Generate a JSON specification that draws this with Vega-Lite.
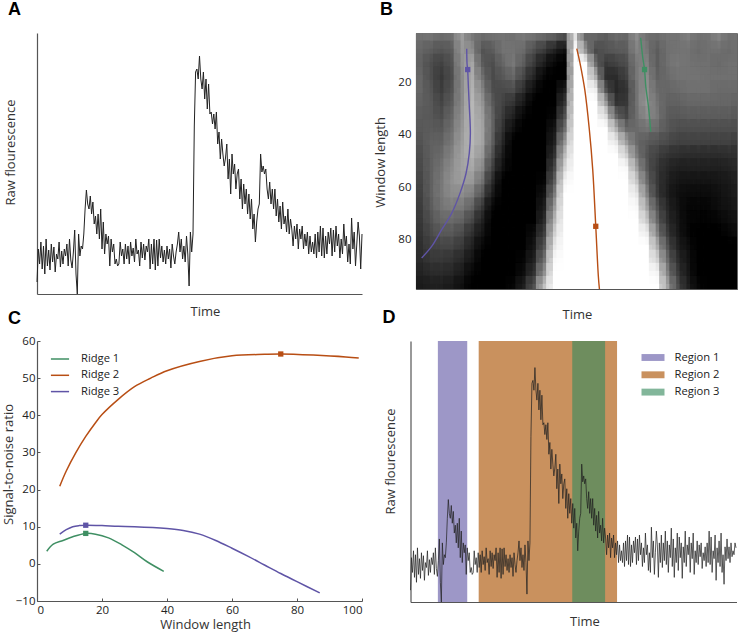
{"$schema":"https://vega.github.io/schema/vega-lite/v6.json","padding":{"left":2,"top":0,"right":0,"bottom":0},"background":"white",
"config":{"view":{"stroke":null},"font":"Open Sans","axis":{"grid":false,"domainColor":"#555","domainWidth":1.2,"tickColor":"#555","labelFont":"Open Sans","titleFont":"Open Sans","labelColor":"#222","titleColor":"#333","labelFontSize":11.5,"titleFontSize":13,"titleFontWeight":"normal","labelOverlap":false},"title":{"font":"Liberation Sans","fontWeight":"bold","fontSize":18,"color":"black","anchor":"start","frame":"group"}},
"datasets":{
"trace":[{"t":0,"v":12},{"t":2,"v":45},{"t":4,"v":30},{"t":6,"v":52},{"t":8,"v":25},{"t":10,"v":48},{"t":12,"v":20},{"t":14,"v":55},{"t":16,"v":28},{"t":18,"v":44},{"t":20,"v":24},{"t":22,"v":50},{"t":24,"v":32},{"t":26,"v":47},{"t":28,"v":22},{"t":30,"v":40},{"t":32,"v":35},{"t":34,"v":52},{"t":36,"v":27},{"t":38,"v":43},{"t":40,"v":30},{"t":42,"v":45},{"t":44,"v":38},{"t":46,"v":50},{"t":48,"v":28},{"t":50,"v":55},{"t":52,"v":34},{"t":54,"v":26},{"t":56,"v":42},{"t":58,"v":64},{"t":60,"v":20},{"t":62,"v":0},{"t":64,"v":60},{"t":66,"v":38},{"t":68,"v":48},{"t":70,"v":45},{"t":72,"v":60},{"t":74,"v":85},{"t":76,"v":104},{"t":78,"v":90},{"t":80,"v":85},{"t":82,"v":98},{"t":84,"v":80},{"t":86,"v":92},{"t":88,"v":70},{"t":90,"v":78},{"t":92,"v":60},{"t":94,"v":80},{"t":96,"v":55},{"t":98,"v":85},{"t":100,"v":45},{"t":102,"v":72},{"t":104,"v":40},{"t":106,"v":60},{"t":108,"v":50},{"t":110,"v":58},{"t":112,"v":28},{"t":114,"v":55},{"t":116,"v":42},{"t":118,"v":50},{"t":120,"v":30},{"t":122,"v":35},{"t":124,"v":28},{"t":126,"v":30},{"t":128,"v":52},{"t":130,"v":38},{"t":132,"v":45},{"t":134,"v":30},{"t":136,"v":50},{"t":138,"v":35},{"t":140,"v":48},{"t":142,"v":30},{"t":144,"v":52},{"t":146,"v":38},{"t":148,"v":46},{"t":150,"v":32},{"t":152,"v":55},{"t":154,"v":40},{"t":156,"v":44},{"t":158,"v":28},{"t":160,"v":52},{"t":162,"v":36},{"t":164,"v":50},{"t":166,"v":34},{"t":168,"v":48},{"t":170,"v":42},{"t":172,"v":55},{"t":174,"v":25},{"t":176,"v":50},{"t":178,"v":30},{"t":180,"v":55},{"t":182,"v":24},{"t":184,"v":54},{"t":186,"v":28},{"t":188,"v":55},{"t":190,"v":36},{"t":192,"v":48},{"t":194,"v":32},{"t":196,"v":44},{"t":198,"v":30},{"t":200,"v":48},{"t":202,"v":35},{"t":204,"v":45},{"t":206,"v":26},{"t":208,"v":50},{"t":210,"v":38},{"t":212,"v":30},{"t":214,"v":42},{"t":216,"v":50},{"t":218,"v":62},{"t":220,"v":42},{"t":222,"v":55},{"t":224,"v":35},{"t":226,"v":48},{"t":228,"v":32},{"t":230,"v":58},{"t":232,"v":40},{"t":234,"v":8},{"t":236,"v":62},{"t":238,"v":42},{"t":240,"v":60},{"t":242,"v":168},{"t":244,"v":222},{"t":246,"v":225},{"t":248,"v":215},{"t":250,"v":238},{"t":252,"v":215},{"t":254,"v":205},{"t":256,"v":222},{"t":258,"v":195},{"t":260,"v":215},{"t":262,"v":185},{"t":264,"v":210},{"t":266,"v":180},{"t":268,"v":182},{"t":270,"v":170},{"t":272,"v":180},{"t":274,"v":165},{"t":276,"v":182},{"t":278,"v":150},{"t":280,"v":162},{"t":282,"v":135},{"t":284,"v":155},{"t":286,"v":140},{"t":288,"v":128},{"t":290,"v":136},{"t":292,"v":150},{"t":294,"v":115},{"t":296,"v":135},{"t":298,"v":100},{"t":300,"v":140},{"t":302,"v":120},{"t":304,"v":130},{"t":306,"v":105},{"t":308,"v":120},{"t":310,"v":125},{"t":312,"v":95},{"t":314,"v":115},{"t":316,"v":85},{"t":318,"v":110},{"t":320,"v":90},{"t":322,"v":105},{"t":324,"v":80},{"t":326,"v":100},{"t":328,"v":75},{"t":330,"v":95},{"t":332,"v":65},{"t":334,"v":80},{"t":336,"v":52},{"t":338,"v":72},{"t":340,"v":85},{"t":342,"v":90},{"t":344,"v":140},{"t":346,"v":122},{"t":348,"v":128},{"t":350,"v":120},{"t":352,"v":125},{"t":354,"v":105},{"t":356,"v":95},{"t":358,"v":112},{"t":360,"v":90},{"t":362,"v":105},{"t":364,"v":85},{"t":366,"v":105},{"t":368,"v":78},{"t":370,"v":95},{"t":372,"v":72},{"t":374,"v":88},{"t":376,"v":65},{"t":378,"v":92},{"t":380,"v":70},{"t":382,"v":78},{"t":384,"v":62},{"t":386,"v":85},{"t":388,"v":60},{"t":390,"v":75},{"t":392,"v":65},{"t":394,"v":48},{"t":396,"v":68},{"t":398,"v":55},{"t":400,"v":70},{"t":402,"v":45},{"t":404,"v":65},{"t":406,"v":55},{"t":408,"v":68},{"t":410,"v":45},{"t":412,"v":60},{"t":414,"v":48},{"t":416,"v":62},{"t":418,"v":40},{"t":420,"v":58},{"t":422,"v":42},{"t":424,"v":52},{"t":426,"v":40},{"t":428,"v":60},{"t":430,"v":36},{"t":432,"v":62},{"t":434,"v":42},{"t":436,"v":68},{"t":438,"v":38},{"t":440,"v":66},{"t":442,"v":36},{"t":444,"v":58},{"t":446,"v":40},{"t":448,"v":62},{"t":450,"v":50},{"t":452,"v":66},{"t":454,"v":38},{"t":456,"v":64},{"t":458,"v":42},{"t":460,"v":68},{"t":462,"v":48},{"t":464,"v":60},{"t":466,"v":36},{"t":468,"v":55},{"t":470,"v":40},{"t":472,"v":70},{"t":474,"v":48},{"t":476,"v":58},{"t":478,"v":32},{"t":480,"v":50},{"t":482,"v":30},{"t":484,"v":76},{"t":486,"v":45},{"t":488,"v":62},{"t":490,"v":28},{"t":492,"v":50},{"t":494,"v":72},{"t":496,"v":58},{"t":498,"v":25},{"t":500,"v":60},{"t":502,"v":40},{"t":504,"v":68},{"t":506,"v":35},{"t":508,"v":60},{"t":510,"v":42},{"t":512,"v":72},{"t":514,"v":38},{"t":516,"v":62},{"t":518,"v":30},{"t":520,"v":58},{"t":522,"v":45},{"t":524,"v":75},{"t":526,"v":36},{"t":528,"v":64},{"t":530,"v":25},{"t":532,"v":55},{"t":534,"v":40},{"t":536,"v":70},{"t":538,"v":32},{"t":540,"v":66},{"t":542,"v":45},{"t":544,"v":60},{"t":546,"v":24},{"t":548,"v":56},{"t":550,"v":40},{"t":552,"v":72},{"t":554,"v":36},{"t":556,"v":58},{"t":558,"v":48},{"t":560,"v":66},{"t":562,"v":30},{"t":564,"v":60},{"t":566,"v":44},{"t":568,"v":70},{"t":570,"v":28},{"t":572,"v":52},{"t":574,"v":40},{"t":576,"v":62},{"t":578,"v":38},{"t":580,"v":58},{"t":582,"v":46},{"t":584,"v":60},{"t":586,"v":34},{"t":588,"v":50},{"t":590,"v":42},{"t":592,"v":56},{"t":594,"v":36},{"t":596,"v":60},{"t":598,"v":40},{"t":600,"v":72},{"t":602,"v":38},{"t":604,"v":66},{"t":606,"v":30},{"t":608,"v":52},{"t":610,"v":44},{"t":612,"v":68},{"t":614,"v":22},{"t":616,"v":55},{"t":618,"v":40},{"t":620,"v":62},{"t":622,"v":36},{"t":624,"v":70},{"t":626,"v":30},{"t":628,"v":48},{"t":630,"v":18},{"t":632,"v":56},{"t":634,"v":42},{"t":636,"v":64},{"t":638,"v":44},{"t":640,"v":56},{"t":642,"v":40},{"t":644,"v":60},{"t":646,"v":46},{"t":648,"v":52},{"t":650,"v":48},{"t":652,"v":60},{"t":654,"v":55}],
"heat":[
{"t":8,"w":3,"g":120},{"t":24,"w":3,"g":125},{"t":40,"w":3,"g":115},{"t":56,"w":3,"g":120},{"t":72,"w":3,"g":165},{"t":88,"w":3,"g":130},{"t":104,"w":3,"g":115},{"t":120,"w":3,"g":120},{"t":136,"w":3,"g":125},{"t":152,"w":3,"g":120},{"t":168,"w":3,"g":130},{"t":184,"w":3,"g":120},{"t":200,"w":3,"g":110},{"t":216,"w":3,"g":100},{"t":232,"w":3,"g":80},{"t":248,"w":3,"g":230},{"t":264,"w":3,"g":110},{"t":280,"w":3,"g":110},{"t":296,"w":3,"g":100},{"t":312,"w":3,"g":115},{"t":328,"w":3,"g":110},{"t":344,"w":3,"g":150},{"t":360,"w":3,"g":120},{"t":376,"w":3,"g":115},{"t":392,"w":3,"g":125},{"t":408,"w":3,"g":125},{"t":424,"w":3,"g":135},{"t":440,"w":3,"g":120},{"t":456,"w":3,"g":125},{"t":472,"w":3,"g":140},{"t":488,"w":3,"g":120},{"t":504,"w":3,"g":125},
{"t":8,"w":8,"g":110},{"t":24,"w":8,"g":100},{"t":40,"w":8,"g":90},{"t":56,"w":8,"g":100},{"t":72,"w":8,"g":160},{"t":88,"w":8,"g":150},{"t":104,"w":8,"g":90},{"t":120,"w":8,"g":100},{"t":136,"w":8,"g":125},{"t":152,"w":8,"g":125},{"t":168,"w":8,"g":115},{"t":184,"w":8,"g":85},{"t":200,"w":8,"g":60},{"t":216,"w":8,"g":30},{"t":232,"w":8,"g":10},{"t":248,"w":8,"g":255},{"t":264,"w":8,"g":160},{"t":280,"w":8,"g":80},{"t":296,"w":8,"g":90},{"t":312,"w":8,"g":95},{"t":328,"w":8,"g":100},{"t":344,"w":8,"g":140},{"t":360,"w":8,"g":130},{"t":376,"w":8,"g":100},{"t":392,"w":8,"g":120},{"t":408,"w":8,"g":125},{"t":424,"w":8,"g":125},{"t":440,"w":8,"g":115},{"t":456,"w":8,"g":120},{"t":472,"w":8,"g":120},{"t":488,"w":8,"g":115},{"t":504,"w":8,"g":120},
{"t":8,"w":13,"g":105},{"t":24,"w":13,"g":85},{"t":40,"w":13,"g":70},{"t":56,"w":13,"g":90},{"t":72,"w":13,"g":155},{"t":88,"w":13,"g":175},{"t":104,"w":13,"g":100},{"t":120,"w":13,"g":85},{"t":136,"w":13,"g":110},{"t":152,"w":13,"g":130},{"t":168,"w":13,"g":100},{"t":184,"w":13,"g":60},{"t":200,"w":13,"g":25},{"t":216,"w":13,"g":5},{"t":232,"w":13,"g":0},{"t":248,"w":13,"g":255},{"t":264,"w":13,"g":255},{"t":280,"w":13,"g":120},{"t":296,"w":13,"g":60},{"t":312,"w":13,"g":70},{"t":328,"w":13,"g":85},{"t":344,"w":13,"g":130},{"t":360,"w":13,"g":140},{"t":376,"w":13,"g":100},{"t":392,"w":13,"g":120},{"t":408,"w":13,"g":130},{"t":424,"w":13,"g":125},{"t":440,"w":13,"g":120},{"t":456,"w":13,"g":120},{"t":472,"w":13,"g":115},{"t":488,"w":13,"g":120},{"t":504,"w":13,"g":120},
{"t":8,"w":18,"g":110},{"t":24,"w":18,"g":85},{"t":40,"w":18,"g":60},{"t":56,"w":18,"g":85},{"t":72,"w":18,"g":150},{"t":88,"w":18,"g":180},{"t":104,"w":18,"g":120},{"t":120,"w":18,"g":80},{"t":136,"w":18,"g":95},{"t":152,"w":18,"g":110},{"t":168,"w":18,"g":75},{"t":184,"w":18,"g":35},{"t":200,"w":18,"g":5},{"t":216,"w":18,"g":0},{"t":232,"w":18,"g":0},{"t":248,"w":18,"g":255},{"t":264,"w":18,"g":255},{"t":280,"w":18,"g":185},{"t":296,"w":18,"g":50},{"t":312,"w":18,"g":45},{"t":328,"w":18,"g":70},{"t":344,"w":18,"g":130},{"t":360,"w":18,"g":150},{"t":376,"w":18,"g":105},{"t":392,"w":18,"g":115},{"t":408,"w":18,"g":125},{"t":424,"w":18,"g":125},{"t":440,"w":18,"g":125},{"t":456,"w":18,"g":120},{"t":472,"w":18,"g":120},{"t":488,"w":18,"g":120},{"t":504,"w":18,"g":120},
{"t":8,"w":23,"g":110},{"t":24,"w":23,"g":90},{"t":40,"w":23,"g":65},{"t":56,"w":23,"g":90},{"t":72,"w":23,"g":150},{"t":88,"w":23,"g":185},{"t":104,"w":23,"g":140},{"t":120,"w":23,"g":85},{"t":136,"w":23,"g":80},{"t":152,"w":23,"g":85},{"t":168,"w":23,"g":50},{"t":184,"w":23,"g":10},{"t":200,"w":23,"g":0},{"t":216,"w":23,"g":0},{"t":232,"w":23,"g":30},{"t":248,"w":23,"g":255},{"t":264,"w":23,"g":255},{"t":280,"w":23,"g":240},{"t":296,"w":23,"g":90},{"t":312,"w":23,"g":40},{"t":328,"w":23,"g":55},{"t":344,"w":23,"g":125},{"t":360,"w":23,"g":155},{"t":376,"w":23,"g":115},{"t":392,"w":23,"g":110},{"t":408,"w":23,"g":115},{"t":424,"w":23,"g":120},{"t":440,"w":23,"g":120},{"t":456,"w":23,"g":120},{"t":472,"w":23,"g":115},{"t":488,"w":23,"g":115},{"t":504,"w":23,"g":115},
{"t":8,"w":28,"g":105},{"t":24,"w":28,"g":95},{"t":40,"w":28,"g":75},{"t":56,"w":28,"g":100},{"t":72,"w":28,"g":150},{"t":88,"w":28,"g":190},{"t":104,"w":28,"g":155},{"t":120,"w":28,"g":95},{"t":136,"w":28,"g":70},{"t":152,"w":28,"g":55},{"t":168,"w":28,"g":20},{"t":184,"w":28,"g":0},{"t":200,"w":28,"g":0},{"t":216,"w":28,"g":0},{"t":232,"w":28,"g":60},{"t":248,"w":28,"g":255},{"t":264,"w":28,"g":255},{"t":280,"w":28,"g":255},{"t":296,"w":28,"g":165},{"t":312,"w":28,"g":55},{"t":328,"w":28,"g":60},{"t":344,"w":28,"g":125},{"t":360,"w":28,"g":160},{"t":376,"w":28,"g":125},{"t":392,"w":28,"g":105},{"t":408,"w":28,"g":105},{"t":424,"w":28,"g":110},{"t":440,"w":28,"g":110},{"t":456,"w":28,"g":110},{"t":472,"w":28,"g":110},{"t":488,"w":28,"g":110},{"t":504,"w":28,"g":105},
{"t":8,"w":33,"g":100},{"t":24,"w":33,"g":95},{"t":40,"w":33,"g":85},{"t":56,"w":33,"g":110},{"t":72,"w":33,"g":155},{"t":88,"w":33,"g":190},{"t":104,"w":33,"g":165},{"t":120,"w":33,"g":105},{"t":136,"w":33,"g":60},{"t":152,"w":33,"g":30},{"t":168,"w":33,"g":5},{"t":184,"w":33,"g":0},{"t":200,"w":33,"g":0},{"t":216,"w":33,"g":5},{"t":232,"w":33,"g":90},{"t":248,"w":33,"g":255},{"t":264,"w":33,"g":255},{"t":280,"w":33,"g":255},{"t":296,"w":33,"g":225},{"t":312,"w":33,"g":110},{"t":328,"w":33,"g":75},{"t":344,"w":33,"g":120},{"t":360,"w":33,"g":150},{"t":376,"w":33,"g":130},{"t":392,"w":33,"g":100},{"t":408,"w":33,"g":95},{"t":424,"w":33,"g":100},{"t":440,"w":33,"g":100},{"t":456,"w":33,"g":100},{"t":472,"w":33,"g":100},{"t":488,"w":33,"g":100},{"t":504,"w":33,"g":95},
{"t":8,"w":38,"g":95},{"t":24,"w":38,"g":100},{"t":40,"w":38,"g":95},{"t":56,"w":38,"g":120},{"t":72,"w":38,"g":160},{"t":88,"w":38,"g":190},{"t":104,"w":38,"g":170},{"t":120,"w":38,"g":105},{"t":136,"w":38,"g":50},{"t":152,"w":38,"g":10},{"t":168,"w":38,"g":0},{"t":184,"w":38,"g":0},{"t":200,"w":38,"g":0},{"t":216,"w":38,"g":20},{"t":232,"w":38,"g":120},{"t":248,"w":38,"g":255},{"t":264,"w":38,"g":255},{"t":280,"w":38,"g":255},{"t":296,"w":38,"g":255},{"t":312,"w":38,"g":185},{"t":328,"w":38,"g":115},{"t":344,"w":38,"g":115},{"t":360,"w":38,"g":125},{"t":376,"w":38,"g":115},{"t":392,"w":38,"g":95},{"t":408,"w":38,"g":85},{"t":424,"w":38,"g":85},{"t":440,"w":38,"g":85},{"t":456,"w":38,"g":85},{"t":472,"w":38,"g":85},{"t":488,"w":38,"g":85},{"t":504,"w":38,"g":85},
{"t":8,"w":43,"g":90},{"t":24,"w":43,"g":105},{"t":40,"w":43,"g":105},{"t":56,"w":43,"g":130},{"t":72,"w":43,"g":165},{"t":88,"w":43,"g":190},{"t":104,"w":43,"g":170},{"t":120,"w":43,"g":100},{"t":136,"w":43,"g":35},{"t":152,"w":43,"g":0},{"t":168,"w":43,"g":0},{"t":184,"w":43,"g":0},{"t":200,"w":43,"g":0},{"t":216,"w":43,"g":35},{"t":232,"w":43,"g":160},{"t":248,"w":43,"g":255},{"t":264,"w":43,"g":255},{"t":280,"w":43,"g":255},{"t":296,"w":43,"g":255},{"t":312,"w":43,"g":235},{"t":328,"w":43,"g":165},{"t":344,"w":43,"g":115},{"t":360,"w":43,"g":100},{"t":376,"w":43,"g":90},{"t":392,"w":43,"g":80},{"t":408,"w":43,"g":70},{"t":424,"w":43,"g":70},{"t":440,"w":43,"g":70},{"t":456,"w":43,"g":70},{"t":472,"w":43,"g":70},{"t":488,"w":43,"g":70},{"t":504,"w":43,"g":65},
{"t":8,"w":48,"g":85},{"t":24,"w":48,"g":105},{"t":40,"w":48,"g":115},{"t":56,"w":48,"g":140},{"t":72,"w":48,"g":170},{"t":88,"w":48,"g":185},{"t":104,"w":48,"g":160},{"t":120,"w":48,"g":85},{"t":136,"w":48,"g":20},{"t":152,"w":48,"g":0},{"t":168,"w":48,"g":0},{"t":184,"w":48,"g":0},{"t":200,"w":48,"g":0},{"t":216,"w":48,"g":55},{"t":232,"w":48,"g":195},{"t":248,"w":48,"g":255},{"t":264,"w":48,"g":255},{"t":280,"w":48,"g":255},{"t":296,"w":48,"g":255},{"t":312,"w":48,"g":255},{"t":328,"w":48,"g":215},{"t":344,"w":48,"g":135},{"t":360,"w":48,"g":90},{"t":376,"w":48,"g":70},{"t":392,"w":48,"g":55},{"t":408,"w":48,"g":50},{"t":424,"w":48,"g":45},{"t":440,"w":48,"g":45},{"t":456,"w":48,"g":45},{"t":472,"w":48,"g":45},{"t":488,"w":48,"g":50},{"t":504,"w":48,"g":50},
{"t":8,"w":53,"g":80},{"t":24,"w":53,"g":105},{"t":40,"w":53,"g":125},{"t":56,"w":53,"g":150},{"t":72,"w":53,"g":170},{"t":88,"w":53,"g":175},{"t":104,"w":53,"g":145},{"t":120,"w":53,"g":65},{"t":136,"w":53,"g":10},{"t":152,"w":53,"g":0},{"t":168,"w":53,"g":0},{"t":184,"w":53,"g":0},{"t":200,"w":53,"g":0},{"t":216,"w":53,"g":80},{"t":232,"w":53,"g":220},{"t":248,"w":53,"g":255},{"t":264,"w":53,"g":255},{"t":280,"w":53,"g":255},{"t":296,"w":53,"g":255},{"t":312,"w":53,"g":255},{"t":328,"w":53,"g":250},{"t":344,"w":53,"g":170},{"t":360,"w":53,"g":95},{"t":376,"w":53,"g":60},{"t":392,"w":53,"g":40},{"t":408,"w":53,"g":30},{"t":424,"w":53,"g":30},{"t":440,"w":53,"g":30},{"t":456,"w":53,"g":30},{"t":472,"w":53,"g":30},{"t":488,"w":53,"g":35},{"t":504,"w":53,"g":40},
{"t":8,"w":58,"g":75},{"t":24,"w":58,"g":105},{"t":40,"w":58,"g":130},{"t":56,"w":58,"g":155},{"t":72,"w":58,"g":165},{"t":88,"w":58,"g":160},{"t":104,"w":58,"g":120},{"t":120,"w":58,"g":40},{"t":136,"w":58,"g":0},{"t":152,"w":58,"g":0},{"t":168,"w":58,"g":0},{"t":184,"w":58,"g":0},{"t":200,"w":58,"g":5},{"t":216,"w":58,"g":105},{"t":232,"w":58,"g":245},{"t":248,"w":58,"g":255},{"t":264,"w":58,"g":255},{"t":280,"w":58,"g":255},{"t":296,"w":58,"g":255},{"t":312,"w":58,"g":255},{"t":328,"w":58,"g":255},{"t":344,"w":58,"g":205},{"t":360,"w":58,"g":115},{"t":376,"w":58,"g":60},{"t":392,"w":58,"g":35},{"t":408,"w":58,"g":20},{"t":424,"w":58,"g":15},{"t":440,"w":58,"g":15},{"t":456,"w":58,"g":15},{"t":472,"w":58,"g":20},{"t":488,"w":58,"g":25},{"t":504,"w":58,"g":35},
{"t":8,"w":63,"g":70},{"t":24,"w":63,"g":105},{"t":40,"w":63,"g":130},{"t":56,"w":63,"g":150},{"t":72,"w":63,"g":150},{"t":88,"w":63,"g":135},{"t":104,"w":63,"g":90},{"t":120,"w":63,"g":20},{"t":136,"w":63,"g":0},{"t":152,"w":63,"g":0},{"t":168,"w":63,"g":0},{"t":184,"w":63,"g":0},{"t":200,"w":63,"g":15},{"t":216,"w":63,"g":135},{"t":232,"w":63,"g":255},{"t":248,"w":63,"g":255},{"t":264,"w":63,"g":255},{"t":280,"w":63,"g":255},{"t":296,"w":63,"g":255},{"t":312,"w":63,"g":255},{"t":328,"w":63,"g":255},{"t":344,"w":63,"g":235},{"t":360,"w":63,"g":140},{"t":376,"w":63,"g":65},{"t":392,"w":63,"g":30},{"t":408,"w":63,"g":12},{"t":424,"w":63,"g":8},{"t":440,"w":63,"g":8},{"t":456,"w":63,"g":8},{"t":472,"w":63,"g":12},{"t":488,"w":63,"g":20},{"t":504,"w":63,"g":30},
{"t":8,"w":68,"g":65},{"t":24,"w":68,"g":100},{"t":40,"w":68,"g":125},{"t":56,"w":68,"g":135},{"t":72,"w":68,"g":130},{"t":88,"w":68,"g":105},{"t":104,"w":68,"g":55},{"t":120,"w":68,"g":5},{"t":136,"w":68,"g":0},{"t":152,"w":68,"g":0},{"t":168,"w":68,"g":0},{"t":184,"w":68,"g":0},{"t":200,"w":68,"g":30},{"t":216,"w":68,"g":165},{"t":232,"w":68,"g":255},{"t":248,"w":68,"g":255},{"t":264,"w":68,"g":255},{"t":280,"w":68,"g":255},{"t":296,"w":68,"g":255},{"t":312,"w":68,"g":255},{"t":328,"w":68,"g":255},{"t":344,"w":68,"g":250},{"t":360,"w":68,"g":170},{"t":376,"w":68,"g":90},{"t":392,"w":68,"g":40},{"t":408,"w":68,"g":15},{"t":424,"w":68,"g":5},{"t":440,"w":68,"g":5},{"t":456,"w":68,"g":5},{"t":472,"w":68,"g":10},{"t":488,"w":68,"g":15},{"t":504,"w":68,"g":25},
{"t":8,"w":73,"g":60},{"t":24,"w":73,"g":90},{"t":40,"w":73,"g":110},{"t":56,"w":73,"g":115},{"t":72,"w":73,"g":105},{"t":88,"w":73,"g":75},{"t":104,"w":73,"g":30},{"t":120,"w":73,"g":0},{"t":136,"w":73,"g":0},{"t":152,"w":73,"g":0},{"t":168,"w":73,"g":0},{"t":184,"w":73,"g":0},{"t":200,"w":73,"g":50},{"t":216,"w":73,"g":190},{"t":232,"w":73,"g":255},{"t":248,"w":73,"g":255},{"t":264,"w":73,"g":255},{"t":280,"w":73,"g":255},{"t":296,"w":73,"g":255},{"t":312,"w":73,"g":255},{"t":328,"w":73,"g":255},{"t":344,"w":73,"g":255},{"t":360,"w":73,"g":205},{"t":376,"w":73,"g":110},{"t":392,"w":73,"g":50},{"t":408,"w":73,"g":20},{"t":424,"w":73,"g":5},{"t":440,"w":73,"g":3},{"t":456,"w":73,"g":3},{"t":472,"w":73,"g":5},{"t":488,"w":73,"g":10},{"t":504,"w":73,"g":15},
{"t":8,"w":78,"g":55},{"t":24,"w":78,"g":80},{"t":40,"w":78,"g":95},{"t":56,"w":78,"g":95},{"t":72,"w":78,"g":80},{"t":88,"w":78,"g":50},{"t":104,"w":78,"g":15},{"t":120,"w":78,"g":0},{"t":136,"w":78,"g":0},{"t":152,"w":78,"g":0},{"t":168,"w":78,"g":0},{"t":184,"w":78,"g":10},{"t":200,"w":78,"g":70},{"t":216,"w":78,"g":215},{"t":232,"w":78,"g":255},{"t":248,"w":78,"g":255},{"t":264,"w":78,"g":255},{"t":280,"w":78,"g":255},{"t":296,"w":78,"g":255},{"t":312,"w":78,"g":255},{"t":328,"w":78,"g":255},{"t":344,"w":78,"g":255},{"t":360,"w":78,"g":240},{"t":376,"w":78,"g":140},{"t":392,"w":78,"g":65},{"t":408,"w":78,"g":25},{"t":424,"w":78,"g":5},{"t":440,"w":78,"g":0},{"t":456,"w":78,"g":0},{"t":472,"w":78,"g":0},{"t":488,"w":78,"g":5},{"t":504,"w":78,"g":10},
{"t":8,"w":83,"g":50},{"t":24,"w":83,"g":70},{"t":40,"w":83,"g":75},{"t":56,"w":83,"g":75},{"t":72,"w":83,"g":60},{"t":88,"w":83,"g":30},{"t":104,"w":83,"g":5},{"t":120,"w":83,"g":0},{"t":136,"w":83,"g":0},{"t":152,"w":83,"g":0},{"t":168,"w":83,"g":0},{"t":184,"w":83,"g":20},{"t":200,"w":83,"g":95},{"t":216,"w":83,"g":235},{"t":232,"w":83,"g":255},{"t":248,"w":83,"g":255},{"t":264,"w":83,"g":255},{"t":280,"w":83,"g":255},{"t":296,"w":83,"g":255},{"t":312,"w":83,"g":255},{"t":328,"w":83,"g":255},{"t":344,"w":83,"g":255},{"t":360,"w":83,"g":255},{"t":376,"w":83,"g":180},{"t":392,"w":83,"g":90},{"t":408,"w":83,"g":35},{"t":424,"w":83,"g":10},{"t":440,"w":83,"g":0},{"t":456,"w":83,"g":0},{"t":472,"w":83,"g":0},{"t":488,"w":83,"g":0},{"t":504,"w":83,"g":0},
{"t":8,"w":88,"g":45},{"t":24,"w":88,"g":60},{"t":40,"w":88,"g":60},{"t":56,"w":88,"g":55},{"t":72,"w":88,"g":40},{"t":88,"w":88,"g":15},{"t":104,"w":88,"g":0},{"t":120,"w":88,"g":0},{"t":136,"w":88,"g":0},{"t":152,"w":88,"g":0},{"t":168,"w":88,"g":5},{"t":184,"w":88,"g":35},{"t":200,"w":88,"g":125},{"t":216,"w":88,"g":250},{"t":232,"w":88,"g":255},{"t":248,"w":88,"g":255},{"t":264,"w":88,"g":255},{"t":280,"w":88,"g":255},{"t":296,"w":88,"g":255},{"t":312,"w":88,"g":255},{"t":328,"w":88,"g":255},{"t":344,"w":88,"g":255},{"t":360,"w":88,"g":255},{"t":376,"w":88,"g":215},{"t":392,"w":88,"g":115},{"t":408,"w":88,"g":50},{"t":424,"w":88,"g":15},{"t":440,"w":88,"g":0},{"t":456,"w":88,"g":0},{"t":472,"w":88,"g":0},{"t":488,"w":88,"g":0},{"t":504,"w":88,"g":0},
{"t":8,"w":93,"g":35},{"t":24,"w":93,"g":45},{"t":40,"w":93,"g":45},{"t":56,"w":93,"g":40},{"t":72,"w":93,"g":25},{"t":88,"w":93,"g":5},{"t":104,"w":93,"g":0},{"t":120,"w":93,"g":0},{"t":136,"w":93,"g":0},{"t":152,"w":93,"g":0},{"t":168,"w":93,"g":10},{"t":184,"w":93,"g":55},{"t":200,"w":93,"g":155},{"t":216,"w":93,"g":255},{"t":232,"w":93,"g":255},{"t":248,"w":93,"g":255},{"t":264,"w":93,"g":255},{"t":280,"w":93,"g":255},{"t":296,"w":93,"g":255},{"t":312,"w":93,"g":255},{"t":328,"w":93,"g":255},{"t":344,"w":93,"g":255},{"t":360,"w":93,"g":255},{"t":376,"w":93,"g":245},{"t":392,"w":93,"g":140},{"t":408,"w":93,"g":65},{"t":424,"w":93,"g":20},{"t":440,"w":93,"g":0},{"t":456,"w":93,"g":0},{"t":472,"w":93,"g":0},{"t":488,"w":93,"g":0},{"t":504,"w":93,"g":0},
{"t":8,"w":98,"g":25},{"t":24,"w":98,"g":30},{"t":40,"w":98,"g":30},{"t":56,"w":98,"g":25},{"t":72,"w":98,"g":10},{"t":88,"w":98,"g":0},{"t":104,"w":98,"g":0},{"t":120,"w":98,"g":0},{"t":136,"w":98,"g":0},{"t":152,"w":98,"g":5},{"t":168,"w":98,"g":30},{"t":184,"w":98,"g":90},{"t":200,"w":98,"g":200},{"t":216,"w":98,"g":255},{"t":232,"w":98,"g":255},{"t":248,"w":98,"g":255},{"t":264,"w":98,"g":255},{"t":280,"w":98,"g":255},{"t":296,"w":98,"g":255},{"t":312,"w":98,"g":255},{"t":328,"w":98,"g":255},{"t":344,"w":98,"g":255},{"t":360,"w":98,"g":255},{"t":376,"w":98,"g":255},{"t":392,"w":98,"g":170},{"t":408,"w":98,"g":85},{"t":424,"w":98,"g":30},{"t":440,"w":98,"g":5},{"t":456,"w":98,"g":0},{"t":472,"w":98,"g":0},{"t":488,"w":98,"g":0},{"t":504,"w":98,"g":0}],
"ridges":[{"r":"Ridge 3","t":79,"w":7},{"r":"Ridge 3","t":79.5,"w":12.7},{"r":"Ridge 3","t":80.5,"w":15.2},{"r":"Ridge 3","t":81.6,"w":21.6},{"r":"Ridge 3","t":83,"w":29},{"r":"Ridge 3","t":84.7,"w":39.4},{"r":"Ridge 3","t":83,"w":47},{"r":"Ridge 3","t":78,"w":54.7},{"r":"Ridge 3","t":68.6,"w":62.3},{"r":"Ridge 3","t":55.6,"w":70},{"r":"Ridge 3","t":40,"w":76.3},{"r":"Ridge 3","t":24.4,"w":82.7},{"r":"Ridge 3","t":8.8,"w":87.1},{"r":"Ridge 2","t":250.4,"w":7},{"r":"Ridge 2","t":255.6,"w":12.7},{"r":"Ridge 2","t":263,"w":22.9},{"r":"Ridge 2","t":270,"w":38},{"r":"Ridge 2","t":275.3,"w":53.4},{"r":"Ridge 2","t":280,"w":75},{"r":"Ridge 2","t":284,"w":94},{"r":"Ridge 2","t":285.7,"w":99},{"r":"Ridge 1","t":350,"w":2.8},{"r":"Ridge 1","t":353,"w":10},{"r":"Ridge 1","t":356,"w":15},{"r":"Ridge 1","t":358,"w":21.6},{"r":"Ridge 1","t":362,"w":29},{"r":"Ridge 1","t":365.7,"w":38.8}],
"ridgePeaks":[{"r":"Ridge 1","t":356,"w":15,"s":8.2},{"r":"Ridge 2","t":280,"w":75,"s":56.5},{"r":"Ridge 3","t":80.5,"w":15,"s":10.4}],
"snr":[{"r":"Ridge 1","w":3,"s":3.4},{"r":"Ridge 1","w":5,"s":5.3},{"r":"Ridge 1","w":8,"s":6.3},{"r":"Ridge 1","w":11,"s":7.3},{"r":"Ridge 1","w":15,"s":8.2},{"r":"Ridge 1","w":18,"s":8},{"r":"Ridge 1","w":22,"s":7},{"r":"Ridge 1","w":26,"s":5.2},{"r":"Ridge 1","w":30,"s":3},{"r":"Ridge 1","w":34,"s":0.5},{"r":"Ridge 1","w":39,"s":-2},{"r":"Ridge 2","w":7,"s":20.9},{"r":"Ridge 2","w":9,"s":25},{"r":"Ridge 2","w":12,"s":30},{"r":"Ridge 2","w":15,"s":34.3},{"r":"Ridge 2","w":18,"s":38},{"r":"Ridge 2","w":20,"s":40.2},{"r":"Ridge 2","w":25,"s":44.3},{"r":"Ridge 2","w":30,"s":47.7},{"r":"Ridge 2","w":35,"s":50},{"r":"Ridge 2","w":40,"s":52},{"r":"Ridge 2","w":50,"s":54.5},{"r":"Ridge 2","w":60,"s":56},{"r":"Ridge 2","w":70,"s":56.4},{"r":"Ridge 2","w":75,"s":56.5},{"r":"Ridge 2","w":85,"s":56.2},{"r":"Ridge 2","w":95,"s":55.7},{"r":"Ridge 2","w":99,"s":55.4},{"r":"Ridge 3","w":7,"s":8},{"r":"Ridge 3","w":9,"s":9.2},{"r":"Ridge 3","w":11,"s":10},{"r":"Ridge 3","w":13,"s":10.3},{"r":"Ridge 3","w":15,"s":10.4},{"r":"Ridge 3","w":20,"s":10.3},{"r":"Ridge 3","w":25,"s":10.1},{"r":"Ridge 3","w":30,"s":10},{"r":"Ridge 3","w":40,"s":9.5},{"r":"Ridge 3","w":45,"s":9},{"r":"Ridge 3","w":50,"s":8},{"r":"Ridge 3","w":55,"s":6.3},{"r":"Ridge 3","w":60,"s":4.2},{"r":"Ridge 3","w":65,"s":2},{"r":"Ridge 3","w":70,"s":-0.3},{"r":"Ridge 3","w":75,"s":-2.6},{"r":"Ridge 3","w":80,"s":-4.8},{"r":"Ridge 3","w":87,"s":-7.8}],
"regions":[{"region":"Region 1","start":55,"end":114},{"region":"Region 2","start":137,"end":415},{"region":"Region 3","start":325,"end":391}]
},
"spacing":-13,
"resolve":{"scale":{"color":"independent"},"legend":{"color":"independent"}},
"vconcat":[
{"hconcat":[
{"width":325,"height":261,"title":{"text":"A","dx":-29,"offset":14},"data":{"name":"trace"},"transform":[{"filter":"datum.t<=500"}],
"mark":{"type":"line","color":"#222","strokeWidth":1},
"encoding":{"x":{"field":"t","type":"quantitative","scale":{"domain":[0,500],"nice":false},"axis":{"title":"Time","ticks":false,"labels":false,"titleX":168,"titlePadding":11}},"y":{"field":"v","type":"quantitative","scale":{"domain":[0,261],"nice":false},"axis":{"title":"Raw flourescence","ticks":false,"labels":false,"titleY":119,"titlePadding":20}}}},
{"width":321,"height":256,"title":{"text":"B","dx":-36,"offset":14},"view":{"stroke":"#666","strokeWidth":1},
"layer":[
{"data":{"name":"heat"},"mark":{"type":"rect","width":10.7,"height":13.5,"clip":true},"encoding":{"x":{"field":"t","type":"quantitative","scale":{"domain":[0,500],"nice":false},"axis":{"title":"Time","values":[100,200,300,400],"labels":false,"tickSize":-3,"titleX":161,"titlePadding":19}},"y":{"field":"w","type":"quantitative","scale":{"domain":[1,99],"nice":false,"reverse":true},"axis":{"title":"Window length","values":[20,40,60,80],"tickSize":-3,"titleY":129,"titlePadding":10,"labelPadding":8}},"color":{"field":"g","type":"quantitative","scale":{"domain":[0,255],"range":["#000000","#ffffff"]},"legend":null}}},
{"data":{"name":"heat"},"mark":{"type":"rect","width":17,"height":21,"clip":true,"opacity":0.5},"encoding":{"x":{"field":"t","type":"quantitative"},"y":{"field":"w","type":"quantitative"},"color":{"field":"g","type":"quantitative","scale":{"domain":[0,255],"range":["#000000","#ffffff"]},"legend":null}}},
{"data":{"name":"heat"},"mark":{"type":"rect","width":17,"height":21,"clip":true,"opacity":0.35},"encoding":{"x":{"field":"t","type":"quantitative"},"y":{"field":"w","type":"quantitative"},"order":[{"field":"w","sort":"descending"},{"field":"t","sort":"descending"}],"color":{"field":"g","type":"quantitative","scale":{"domain":[0,255],"range":["#000000","#ffffff"]},"legend":null}}},
{"data":{"name":"ridges"},"mark":{"type":"line","strokeWidth":1.4,"interpolate":"catmull-rom","clip":true},"encoding":{"x":{"field":"t","type":"quantitative"},"y":{"field":"w","type":"quantitative"},"order":{"field":"w"},"stroke":{"field":"r","type":"nominal","scale":{"domain":["Ridge 1","Ridge 2","Ridge 3"],"range":["#3F8F63","#B84E14","#5F54A6"]},"legend":null}}},
{"data":{"name":"ridgePeaks"},"mark":{"type":"point","shape":"square","filled":true,"size":28,"opacity":1},"encoding":{"x":{"field":"t","type":"quantitative"},"y":{"field":"w","type":"quantitative"},"fill":{"field":"r","type":"nominal","scale":{"domain":["Ridge 1","Ridge 2","Ridge 3"],"range":["#3F8F63","#B84E14","#5F54A6"]},"legend":null}}}
]}
],"spacing":54,"bounds":"flush"},
{"hconcat":[
{"width":325,"height":260,"title":{"text":"C","dx":-29,"offset":7},
"layer":[
{"data":{"name":"snr"},"mark":{"type":"line","strokeWidth":1.5,"interpolate":"catmull-rom"},"encoding":{"x":{"field":"w","type":"quantitative","scale":{"domain":[0,100],"nice":false},"axis":{"title":"Window length","values":[0,20,40,60,80,100],"tickCount":12,"tickSize":-3,"titleX":168,"titlePadding":3,"labelPadding":6}},"y":{"field":"s","type":"quantitative","scale":{"domain":[-10,60],"nice":false},"axis":{"title":"Signal-to-noise ratio","values":[-10,0,10,20,30,40,50,60],"tickCount":12,"tickSize":-3,"titleY":123,"titlePadding":0,"labelPadding":5}},"color":{"field":"r","type":"nominal","scale":{"domain":["Ridge 1","Ridge 2","Ridge 3"],"range":["#3F8F63","#B84E14","#5F54A6"]},"legend":{"title":null,"orient":"none","legendX":13,"legendY":8,"symbolType":"stroke","symbolSize":330,"symbolStrokeWidth":1.5,"labelFont":"Open Sans","labelFontSize":11.2,"labelColor":"#222","labelOffset":11,"rowPadding":0.3}}}},
{"data":{"name":"ridgePeaks"},"mark":{"type":"point","shape":"square","filled":true,"size":28,"opacity":1},"encoding":{"x":{"field":"w","type":"quantitative"},"y":{"field":"s","type":"quantitative"},"color":{"field":"r","type":"nominal","legend":null}}}
]},
{"width":326,"height":261,"title":{"text":"D","dx":-28,"offset":14},
"layer":[
{"data":{"name":"regions"},"mark":{"type":"rect","opacity":0.63},"encoding":{"x":{"field":"start","type":"quantitative","scale":{"domain":[0,655],"nice":false},"axis":{"title":"Time","ticks":false,"labels":false,"titleX":174,"titlePadding":13}},"x2":{"field":"end"},"color":{"field":"region","type":"nominal","scale":{"domain":["Region 1","Region 2","Region 3"],"range":["#645AA7","#AA5100","#398C5F"]},"legend":{"title":null,"orient":"none","legendX":231,"legendY":5,"symbolType":"M-1,-0.3H1V0.3H-1Z","symbolSize":529,"symbolOpacity":0.63,"symbolStrokeWidth":0,"labelFont":"Open Sans","labelFontSize":11.2,"labelColor":"#222","labelOffset":10,"rowPadding":0.3}}}},
{"data":{"name":"trace"},"mark":{"type":"line","color":"#222","strokeWidth":0.8,"opacity":0.9},"encoding":{"x":{"field":"t","type":"quantitative"},"y":{"field":"v","type":"quantitative","scale":{"domain":[0,265],"nice":false},"axis":{"title":"Raw flourescence","ticks":false,"labels":false,"titleY":120,"titlePadding":13}}}}
]}
],"spacing":48.5,"bounds":"flush","resolve":{"scale":{"color":"independent"},"legend":{"color":"independent"}}}
]}
